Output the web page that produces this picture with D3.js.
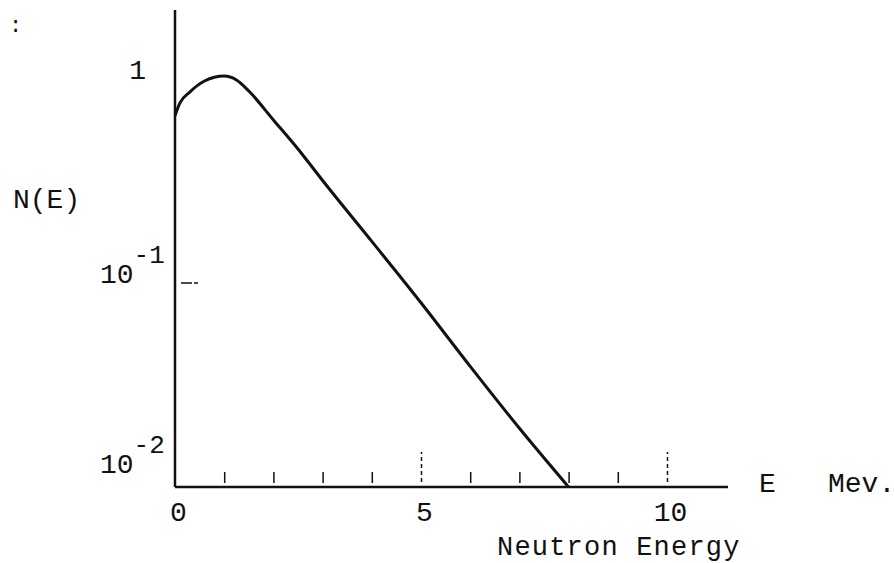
<!DOCTYPE html>
<html>
<head>
<meta charset="utf-8">
<script src="https://cdn.jsdelivr.net/npm/d3@7"></script>
<style>
  body { margin: 0; background: #fff; }
  svg text { font-family: "Liberation Mono", "DejaVu Sans Mono", monospace; fill: #111; }
</style>
</head>
<body>
<div id="chart"></div>
<script>
// Spectre N(E) (echelle log)
const energy = [0, 0.1, 0.3, 0.6, 1, 1.25, 1.5, 2, 2.5, 3, 4, 5, 6, 7, 8]
const flux = [0.66, 0.763, 0.863, 0.978, 1.034, 0.989, 0.873, 0.630, 0.454, 0.318, 0.160, 0.080, 0.039, 0.0194, 0.0100]

// Graduations
const xLabels = [0, 5, 10]
const xMinorTicks = [1, 2, 3, 4, 6, 7, 8, 9]
const xMajorTicks = [5, 10]
const yTicks = [1, 0.1, 0.01]
const yLabels = [["1", ""], ["10", "-1"], ["10", "-2"]]

const W = 894, H = 563
const svg = d3.select("#chart").append("svg")
   .attr("width", W)
   .attr("height", H)

const x = d3.scaleLinear().domain([0, 10]).range([175, 667])
const y = d3.scaleLog().domain([0.01, 1]).range([487, 79])

const yTop = y.invert(10)
const xEnd = x.invert(728)

// Axes (traits)
svg.append("line")
   .attr("x1", x(0)).attr("x2", x(0))
   .attr("y1", y(yTop)).attr("y2", y(0.01))
   .attr("stroke", "#111").attr("stroke-width", 2.5)

svg.append("line")
   .attr("x1", x(0)).attr("x2", x(xEnd))
   .attr("y1", y(0.01)).attr("y2", y(0.01))
   .attr("stroke", "#111").attr("stroke-width", 2.5)

// Petites graduations au-dessus de l'axe, detachees comme sur l'original
const minor = svg.append("g")
   .attr("transform", `translate(0,${y(0.01) - 4})`)
   .call(d3.axisTop(x).tickValues(xMinorTicks).tickSize(11).tickFormat(""))
minor.select(".domain").remove()
minor.selectAll(".tick line").attr("stroke", "#111").attr("stroke-width", 1.5)

const major = svg.append("g")
   .attr("transform", `translate(0,${y(0.01) - 5})`)
   .call(d3.axisTop(x).tickValues(xMajorTicks).tickSize(30).tickFormat(""))
major.select(".domain").remove()
major.selectAll(".tick line")
   .attr("stroke", "#111").attr("stroke-width", 1.5)
   .attr("stroke-dasharray", "4,3")

// Etiquettes de l'axe x
const xLab = svg.append("g")
   .attr("transform", `translate(0,${y(0.01)})`)
   .call(d3.axisBottom(x).tickValues(xLabels).tickSize(0).tickPadding(14).tickFormat(d3.format("d")))
xLab.select(".domain").remove()
xLab.selectAll(".tick text")
   .attr("font-size", 28)
   .attr("dx", 3)
   .attr("fill", "#111")
   .style("font-family", "'Liberation Mono', monospace")

// Graduation interieure de 10^-1
svg.append("line")
   .attr("x1", x(0) + 6).attr("x2", x(0) + 23)
   .attr("y1", y(0.1)).attr("y2", y(0.1))
   .attr("stroke", "#111").attr("stroke-width", 1.5)
   .attr("stroke-dasharray", "11,2,4")

// Etiquettes de l'axe y (avec exposants)
yTicks.forEach((v, i) => {
   const base = Math.min(y(v), y(0.01) - 14)
   const [mant, exp] = yLabels[i]
   const t = svg.append("text")
      .attr("y", base)
      .attr("font-size", 28)
   if (exp) {
      t.attr("x", 100)
      t.append("tspan").text(mant)
      t.append("tspan").attr("dy", -20).attr("font-size", 26).text(exp)
   } else {
      t.attr("x", 146).attr("text-anchor", "end").text(mant)
   }
})

// Courbe
const line = d3.line()
   .x((d, i) => x(energy[i]))
   .y(d => y(d))
   .curve(d3.curveMonotoneX)

svg.append("path")
   .datum(flux)
   .attr("d", line)
   .attr("fill", "none")
   .attr("stroke", "#111")
   .attr("stroke-width", 3)

// Textes
svg.append("text").attr("x", 13).attr("y", 208).attr("font-size", 28).text("N(E)")
svg.append("text").attr("x", 759).attr("y", 492).attr("font-size", 28).text("E")
svg.append("text").attr("x", 828).attr("y", 492).attr("font-size", 28).text("Mev.")
svg.append("text").attr("x", 497).attr("y", 555).attr("font-size", 27)
   .attr("letter-spacing", 1.2).text("Neutron Energy")
svg.append("text").attr("x", 9).attr("y", 32).attr("font-size", 22).text(":")
</script>
</body>
</html>
